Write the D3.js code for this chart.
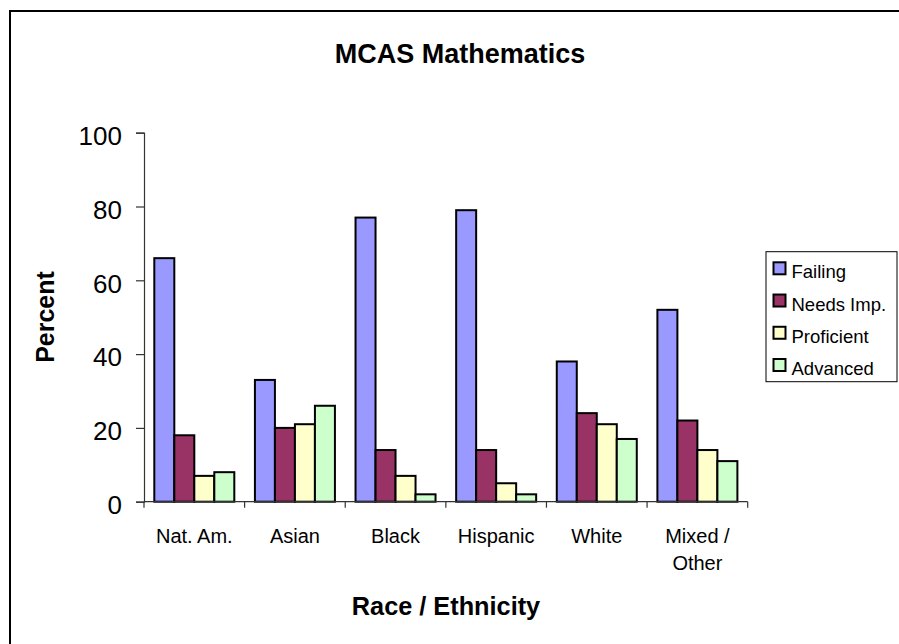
<!DOCTYPE html>
<html>
<head>
<meta charset="utf-8">
<script src="https://cdn.jsdelivr.net/npm/d3@7"></script>
<style>
  html, body { margin: 0; padding: 0; background: #fff; }
  svg { display: block; font-family: "Liberation Sans", Arial, sans-serif; }
</style>
</head>
<body>
<svg id="chart" width="899" height="644"></svg>
<script>
const categories = [["Nat. Am."], ["Asian"], ["Black"], ["Hispanic"], ["White"], ["Mixed /", "Other"]];
const seriesNames = ["Failing", "Needs Imp.", "Proficient", "Advanced"];
const seriesColors = ["#9999FF", "#993366", "#FFFFCC", "#CCFFCC"];
const failing    = [66, 33, 77, 79, 38, 52];
const needsImp   = [18, 20, 14, 14, 24, 22];
const proficient = [7, 21, 7, 5, 21, 14];
const advanced   = [8, 26, 2, 2, 17, 11];
const yTicks = [0, 20, 40, 60, 80, 100];
const titleText = "MCAS Mathematics";
const xTitle = "Race / Ethnicity";
const yTitle = "Percent";

const seriesValues = [failing, needsImp, proficient, advanced];
const catKeys = categories.map(c => c.join(" "));

const svg = d3.select("#chart");

// outer chart border (left/top visible)
svg.append("rect").attr("x", 10).attr("y", 11).attr("width", 1000).attr("height", 1000)
  .attr("fill", "none").attr("stroke", "#000").attr("stroke-width", 2);

const plot = { left: 144, right: 747.7, top: 132.7, bottom: 501.7 };

const x = d3.scaleBand().domain(catKeys).range([plot.left, plot.right]).paddingInner(0).paddingOuter(0);
const groupW = 80;
const xs = d3.scaleBand().domain(seriesNames).range([0, groupW]).padding(0);
const y = d3.scaleLinear().domain([0, 100]).range([plot.bottom, plot.top]);

// bars
seriesNames.forEach((s, si) => {
  svg.append("g").selectAll("rect").data(seriesValues[si]).join("rect")
    .attr("x", (d, i) => x(catKeys[i]) + (x.bandwidth() - groupW) / 2 + xs(s))
    .attr("y", d => y(d))
    .attr("width", xs.bandwidth())
    .attr("height", d => y(0) - y(d))
    .attr("fill", seriesColors[si])
    .attr("stroke", "#000").attr("stroke-width", 2);
});

// y axis
const yAxis = svg.append("g").attr("transform", `translate(${plot.left},0)`)
  .call(d3.axisLeft(y).tickValues(yTicks).tickSize(8).tickPadding(14).tickFormat(d3.format("d")));
yAxis.select(".domain").attr("stroke", "#333").attr("stroke-width", 1.2);
yAxis.selectAll(".tick line").attr("stroke", "#333").attr("stroke-width", 1.2);
yAxis.selectAll(".tick text").attr("font-size", 26).attr("fill", "#000")
  .attr("font-family", "Liberation Sans, Arial, sans-serif").attr("dy", "0.45em");

// x axis
const xAxisG = svg.append("g").attr("transform", `translate(0,${plot.bottom})`);
xAxisG.append("line").attr("x1", plot.left).attr("x2", plot.right).attr("y1", 0).attr("y2", 0)
  .attr("stroke", "#333").attr("stroke-width", 1.2);
const tickXs = catKeys.map(k => x(k)).concat([plot.right]);
xAxisG.selectAll("line.tk").data(tickXs).join("line").attr("class", "tk")
  .attr("x1", d => d).attr("x2", d => d).attr("y1", 0).attr("y2", 6)
  .attr("stroke", "#333").attr("stroke-width", 1.2);
categories.forEach((lines, i) => {
  const t = svg.append("text").attr("text-anchor", "middle").attr("font-size", 20).attr("fill", "#000")
    .attr("x", x(catKeys[i]) + x.bandwidth() / 2).attr("y", 543);
  lines.forEach((ln, j) => t.append("tspan").attr("x", x(catKeys[i]) + x.bandwidth() / 2).attr("dy", j === 0 ? 0 : 27).text(ln));
});

// titles
svg.append("text").attr("x", 460).attr("y", 63.3).attr("text-anchor", "middle")
  .attr("font-size", 27).attr("font-weight", "bold").text(titleText);
svg.append("text").attr("x", 446).attr("y", 615).attr("text-anchor", "middle")
  .attr("font-size", 25.3).attr("font-weight", "bold").text(xTitle);
svg.append("text").attr("transform", `translate(54.3,317) rotate(-90)`).attr("text-anchor", "middle")
  .attr("font-size", 25).attr("font-weight", "bold").text(yTitle);

// legend
const lg = svg.append("g");
lg.append("rect").attr("x", 766).attr("y", 251.7).attr("width", 131).attr("height", 130)
  .attr("fill", "#fff").attr("stroke", "#000").attr("stroke-width", 1);
const rowY = d3.scalePoint().domain(seriesNames).range([278.3, 375]);
seriesNames.forEach((s, i) => {
  lg.append("rect").attr("x", 773.5).attr("y", rowY(s) - 16).attr("width", 12).attr("height", 12)
    .attr("fill", seriesColors[i]).attr("stroke", "#000").attr("stroke-width", 2);
  lg.append("text").attr("x", 791.5).attr("y", rowY(s)).attr("font-size", 18.5).attr("fill", "#000").text(s);
});
</script>
</body>
</html>
